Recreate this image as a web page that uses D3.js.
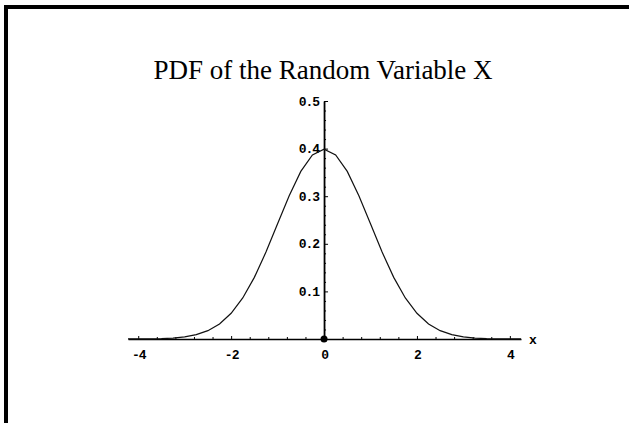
<!DOCTYPE html>
<html>
<head>
<meta charset="utf-8">
<script src="https://cdn.jsdelivr.net/npm/d3@7"></script>
<style>
  html, body { margin: 0; padding: 0; background: #fff; }
  svg { display: block; }
  .tick text { font-family: "Liberation Mono", "DejaVu Sans Mono", monospace; font-weight: bold; font-size: 13px; letter-spacing: -1px; fill: #000; }
</style>
</head>
<body>
<svg id="chart" width="629" height="423"></svg>
<script>
// Standard normal density, sampled along x
const xValues = [-4.22, -4.0, -3.75, -3.5, -3.25, -3.0, -2.75, -2.5, -2.25, -2.0, -1.75, -1.5, -1.25, -1.0, -0.75, -0.5, -0.25, 0,
                 0.25, 0.5, 0.75, 1.0, 1.25, 1.5, 1.75, 2.0, 2.25, 2.5, 2.75, 3.0, 3.25, 3.5, 3.75, 4.0, 4.24];
const densityValues = [0.0001, 0.0001, 0.0004, 0.0009, 0.0020, 0.0044, 0.0091, 0.0175, 0.0317, 0.0540, 0.0863, 0.1295, 0.1826, 0.2420, 0.3011, 0.3521, 0.3867, 0.3989,
                       0.3867, 0.3521, 0.3011, 0.2420, 0.1826, 0.1295, 0.0863, 0.0540, 0.0317, 0.0175, 0.0091, 0.0044, 0.0020, 0.0009, 0.0004, 0.0001, 0.0001];

const xMajorTicks = [-4, -2, 0, 2, 4];
const xTickLabels = ["-4", "-2", "0", "2", "4"];
const xMinorTicks = [-3.6, -3.2, -2.8, -2.4, -1.6, -1.2, -0.8, -0.4, 0.4, 0.8, 1.2, 1.6, 2.4, 2.8, 3.2, 3.6];
const yMajorTicks = [0.1, 0.2, 0.3, 0.4, 0.5];
const yTickLabels = ["0.1", "0.2", "0.3", "0.4", "0.5"];
const yMinorTicks = [0.02, 0.04, 0.06, 0.08, 0.12, 0.14, 0.16, 0.18, 0.22, 0.24, 0.26, 0.28,
                     0.32, 0.34, 0.36, 0.38, 0.42, 0.44, 0.46, 0.48];

const titleText = "PDF of the Random Variable X";
const xAxisName = "x";

const svg = d3.select("#chart");

// frame: heavy rule along top and left edges
svg.append("path")
  .attr("d", "M6,423 L6,7 L629,7")
  .attr("fill", "none")
  .attr("stroke", "#000")
  .attr("stroke-width", 4);

const x = d3.scaleLinear().domain([-4.22, 4.24]).range([128, 521]);
const y = d3.scaleLinear().domain([0, 0.5]).range([339, 101]);

// title
svg.append("text")
  .attr("x", 323).attr("y", 79)
  .attr("text-anchor", "middle")
  .style("font-family", "'Liberation Serif', 'Times New Roman', serif")
  .style("font-size", "27px")
  .style("fill", "#000")
  .text(titleText);

// x axis: minor ticks then major ticks with labels
const xAxisG = svg.append("g").attr("transform", `translate(0,${y(0)})`);
xAxisG.append("g")
  .call(d3.axisBottom(x).tickValues(xMinorTicks).tickSize(-2).tickSizeOuter(0).tickFormat(""))
  .call(g => g.select(".domain").remove());
xAxisG.append("g")
  .call(d3.axisBottom(x).tickValues(xMajorTicks).tickSize(-3).tickSizeOuter(0).tickPadding(11)
    .tickFormat((d, i) => xTickLabels[i]))
  .call(g => g.select(".domain").attr("stroke-width", 1.3));

svg.append("text")
  .attr("x", 533).attr("y", 344)
  .attr("text-anchor", "middle")
  .style("font-family", "'Liberation Mono', monospace")
  .style("font-weight", "bold")
  .style("font-size", "13px")
  .text(xAxisName);

// y axis through the origin, ticks pointing right
const yAxisG = svg.append("g").attr("transform", `translate(${x(0)},0)`);
yAxisG.append("g")
  .call(d3.axisLeft(y).tickValues(yMinorTicks).tickSize(-2).tickSizeOuter(0).tickFormat(""))
  .call(g => g.select(".domain").remove());
yAxisG.append("g")
  .call(d3.axisLeft(y).tickValues(yMajorTicks).tickSize(-4).tickSizeOuter(0).tickPadding(5)
    .tickFormat((d, i) => yTickLabels[i]))
  .call(g => g.select(".domain").attr("stroke-width", 1.8));

// density curve
const line = d3.line()
  .x((d, i) => x(xValues[i]))
  .y(d => y(d))
  .curve(d3.curveLinear);

svg.append("path")
  .datum(densityValues)
  .attr("d", line)
  .attr("fill", "none")
  .attr("stroke", "#111")
  .attr("stroke-width", 1.2);

// point at the origin
svg.append("circle")
  .attr("cx", x(0)).attr("cy", y(0)).attr("r", 3.5)
  .attr("fill", "#000");
</script>
</body>
</html>
